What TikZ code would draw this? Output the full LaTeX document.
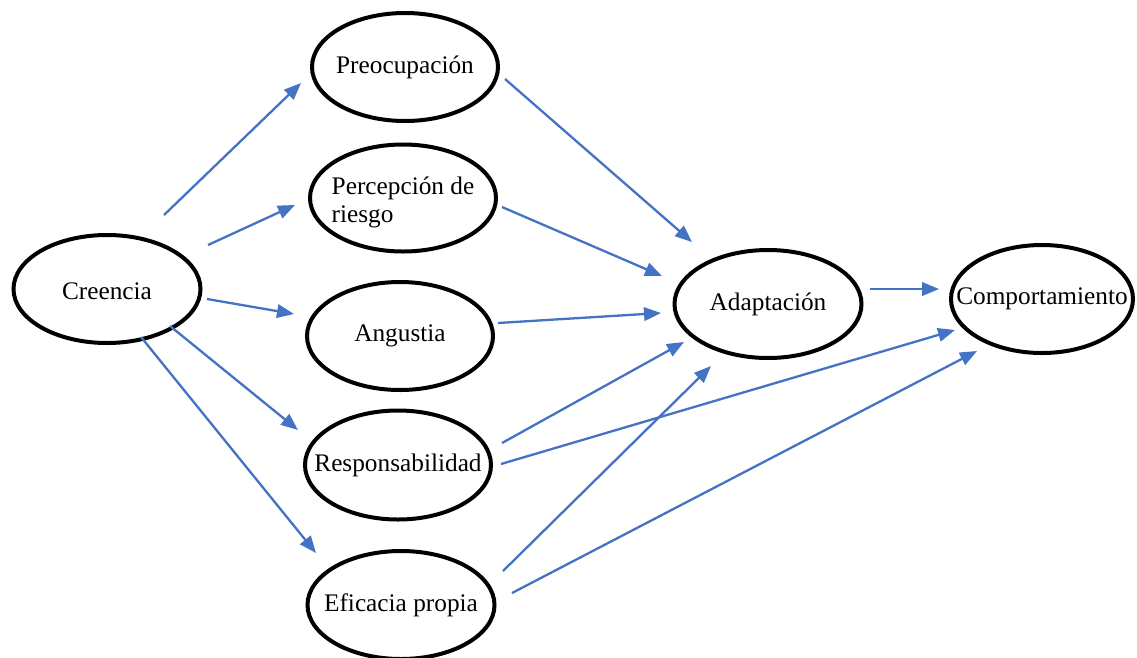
\documentclass[tikz,border=0pt]{standalone}
\usepackage{fontspec}
\setmainfont{Liberation Serif}
\usetikzlibrary{arrows.meta,shapes.geometric}
\definecolor{arrblue}{HTML}{4472C4}
\begin{document}
\begin{tikzpicture}[x=1pt,y=-1pt,
  oval/.style={ellipse, draw=black, line width=4pt, inner sep=0pt,
    minimum width=186pt, minimum height=108pt},
  lbl/.style={font=\fontsize{25.3}{28}\selectfont, inner sep=0pt, align=left},
  arr/.style={draw=arrblue, line width=2.3pt,
    -{Triangle[length=17pt,width=13.5pt]}}]
\useasboundingbox (0,0) rectangle (1137,657);
\fill[white] (0,0) rectangle (1137,657);
\node[oval, minimum width=187pt, label={[lbl,name=creT,yshift=-2pt]center:Creencia}] (cre) at (107,289) {};
\node[oval, label={[lbl,name=preT]center:Preocupación}] (pre) at (405,67) {};
\node[oval, minimum height=107pt, label={[lbl,name=perT,yshift=-4pt]center:Percepción de\\riesgo}] (per) at (403,198) {};
\node[oval, label={[lbl,name=angT]center:Angustia}] (ang) at (400,336) {};
\node[oval, minimum height=109pt, label={[lbl,name=resT]center:Responsabilidad}] (res) at (398,465) {};
\node[oval, minimum width=187pt, label={[lbl,name=efiT]center:Eficacia propia}] (efi) at (401,605) {};
\node[oval, minimum width=187pt, label={[lbl,name=adaT]center:Adaptación}] (ada) at (768,304) {};
\node[oval, minimum width=182pt, label={[lbl,name=comT]center:Comportamiento}] (com) at (1042,299) {};

\draw[arr] ([shift={(57,-74)}]cre.center) -- ([shift={(-104,16)}]pre.center);
\draw[arr] ([shift={(101,-44)}]cre.center) -- ([shift={(-108,7)}]per.center);
\draw[arr] ([shift={(100,10)}]cre.center) -- ([shift={(-106,-22)}]ang.center);
\draw[arr] ([shift={(63,37)}]cre.center) -- ([shift={(-100,-35)}]res.center);
\draw[arr] ([shift={(34,48)}]cre.center) -- ([shift={(-85,-52)}]efi.center);

\draw[arr] ([shift={(100,12)}]pre.center) -- ([shift={(-76,-62)}]ada.center);
\draw[arr] ([shift={(99,9)}]per.center) -- ([shift={(-106,-28)}]ada.center);
\draw[arr] ([shift={(98,-13)}]ang.center) -- ([shift={(-107,9)}]ada.center);
\draw[arr] ([shift={(104,-22)}]res.center) -- ([shift={(-84,38)}]ada.center);
\draw[arr] ([shift={(103,-1)}]res.center) -- ([shift={(-87,31)}]com.center);
\draw[arr] ([shift={(102,-34)}]efi.center) -- ([shift={(-57,62)}]ada.center);
\draw[arr] ([shift={(111,-12)}]efi.center) -- ([shift={(-65,52)}]com.center);
\draw[arr] ([shift={(102,-15)}]ada.center) -- ([shift={(-103,-10)}]com.center);
\end{tikzpicture}
\end{document}
